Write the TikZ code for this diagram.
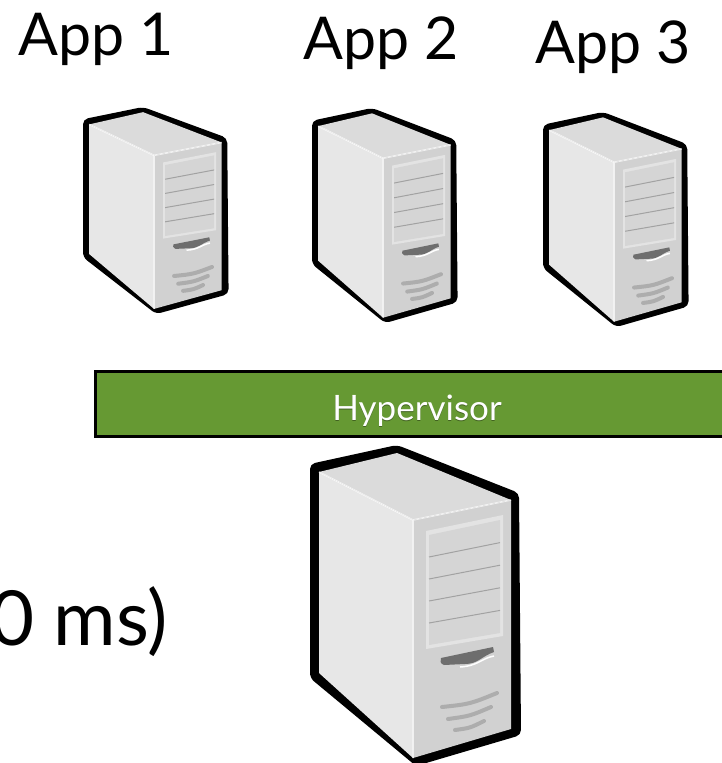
\documentclass[tikz,border=0pt]{standalone}
\usepackage{fontspec}
\setmainfont{Lato}

\definecolor{sidegray}{HTML}{E7E7E7}
\definecolor{topgray}{HTML}{DBDBDB}
\definecolor{frontgray}{HTML}{D1D1D1}
\definecolor{bayrim}{HTML}{E3E3E3}
\definecolor{baygray}{HTML}{D5D5D5}
\definecolor{slotgray}{HTML}{A2A2A2}
\definecolor{btngray}{HTML}{6E6E6E}
\definecolor{ventgray}{HTML}{ADADAD}
\definecolor{hvgreen}{HTML}{669933}

\tikzset{
  applabel/.style={font=\fontsize{59}{59}\selectfont, inner sep=0pt},
  hvbar/.style={draw=black, line width=3pt, fill=hvgreen, inner sep=0pt,
    minimum width=644pt, minimum height=65pt},
  % tower case, drawn in its own unit box (about 210 x 320)
  tower/.pic={
    \fill[black, rounded corners=5pt] (0,19) -- (87,0) -- (209,48) -- (211,290) -- (106,321) -- (0,233) -- cycle;
    \fill[sidegray] (9,27) -- (103,75) -- (103,313) -- (9,228) -- cycle;
    \fill[topgray] (9,27) -- (87,8) -- (201,55) -- (103,75) -- cycle;
    \fill[frontgray] (103,75) -- (201,55) -- (201,284) -- (103,313) -- cycle;
    \draw[white, line width=1.5pt, opacity=.7] (9,27) -- (103,75) -- (201,55) (103,75) -- (103,313);
    % drive bays
    \fill[bayrim] (116,86) -- (193,70) -- (193,191) -- (116,204) -- cycle;
    \fill[baygray] (119,90) -- (190,75) -- (190,188) -- (119,200) -- cycle;
    \foreach \i in {1,...,4}
      \draw[slotgray, line width=1pt] (119,{90+22*\i}) -- (190,{75+22.6*\i});
    % power button
    \fill[btngray] (131,213) -- (183,202) -- (184,207) .. controls (172,211) and (168,219) .. (155,219) -- (134,220) .. controls (130,219) and (130,215) .. cycle;
    \draw[white, line width=1.5pt] (150,222) .. controls (168,221) and (172,213) .. (184,211);
    % vents
    \draw[ventgray, line width=4pt, line cap=round]
      (132,262) .. controls (160,259) .. (187,248)
      (138,274) .. controls (160,271) .. (181,262)
      (145,285) .. controls (160,283) .. (174,276);
  }
}

\begin{document}
\begin{tikzpicture}[x=1pt, y=-1pt]
\useasboundingbox (0,0) rectangle (722,763);

% virtual machines
\pic[xscale=0.69, yscale=0.645] (vm1) at (83,107) {tower};
\pic[xscale=0.69, yscale=0.67] (vm2) at (312,108) {tower};
\pic[xscale=0.69, yscale=0.67] (vm3) at (543,112) {tower};

\node[applabel, anchor=base west] (app1) at (18,55) {App 1};
\node[applabel, anchor=base west] (app2) at (303,59) {App 2};
\node[applabel, anchor=base west] (app3) at (535,63) {App 3};

% hypervisor layer
\node[hvbar] (hyperbar) at (417,404) {};
\node[text=black, opacity=.35, anchor=base, font=\fontsize{35}{35}\selectfont] (hvshadow) at (hyperbar.center |- 0,421.5) {Hypervisor};
\node[text=white, anchor=base, font=\fontsize{35}{35}\selectfont] (hvlabel) at (hyperbar.center |- 0,420) {Hypervisor};

% physical host
\pic (host) at (310,445) {tower};

\node[anchor=base east, inner sep=0pt, font=\fontsize{76}{76}\selectfont] (delay) at (168,645) {0 ms)};
\end{tikzpicture}
\end{document}
